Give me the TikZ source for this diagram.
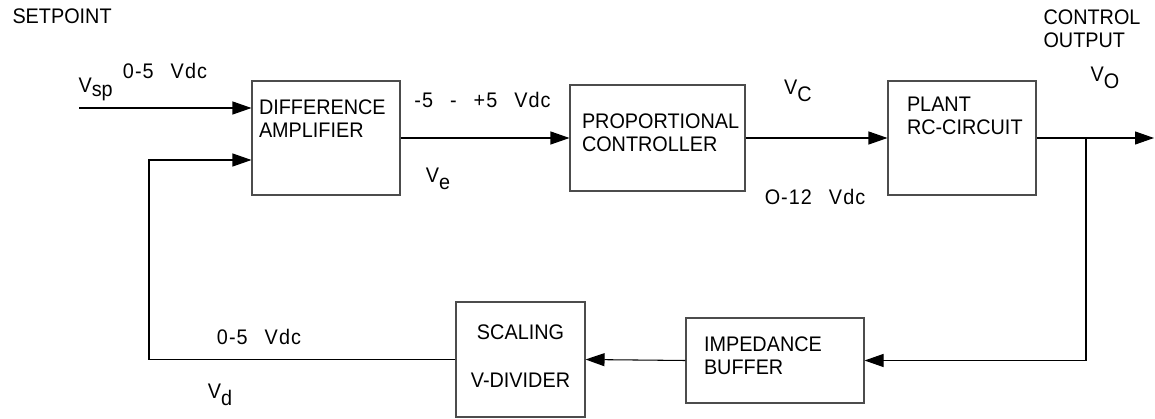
\documentclass[tikz,border=0pt]{standalone}
\usepackage{fontspec}
\setmainfont{Liberation Sans}[FakeStretch=0.94]
\usetikzlibrary{arrows.meta}
\tikzset{
  block/.style={draw=black!70,line width=0.6pt,inner sep=0pt},
  lbl/.style={font=\fontsize{12}{13}\selectfont,inner sep=0pt,align=left},
  val/.style={lbl,font=\fontsize{12}{13}\selectfont\addfontfeature{LetterSpace=5}},
}
\newcommand{\gp}{\hspace{3.4mm}}
\newcommand{\sub}[2][-0.6ex]{\raisebox{#1}{#2}}

\begin{document}
\begin{tikzpicture}[>={Triangle[length=3.8mm,width=2.6mm]},line width=0.6pt]
\useasboundingbox (0,0) rectangle (23.1,-8.38);
% forward path
\node[block,minimum width=2.96cm,minimum height=2.28cm] (diff) at (6.52,-2.76) {};
\node[block,minimum width=3.5cm,minimum height=2.12cm] (prop) at (13.15,-2.76) {};
\node[block,minimum width=2.96cm,minimum height=2.28cm] (plant) at (19.24,-2.76) {};
% feedback path
\node[block,minimum width=3.56cm,minimum height=1.7cm] (buf) at (15.5,-7.21) {};
\node[block,minimum width=2.58cm,minimum height=2.3cm] (scale) at (10.41,-7.19) {};

\node[lbl,anchor=west] (difftxt) at ([shift={(0.14,0.38)}]diff.west) {DIFFERENCE\\AMPLIFIER};
\node[lbl,anchor=west] (proptxt) at ([shift={(0.24,0.11)}]prop.west) {PROPORTIONAL\\CONTROLLER};
\node[lbl,anchor=west] (planttxt) at ([shift={(0.38,0.45)}]plant.west) {PLANT\\RC-CIRCUIT};
\node[lbl,anchor=west] (buftxt) at ([shift={(0.36,0.09)}]buf.west) {IMPEDANCE\\BUFFER};
\node[lbl] (scaletxt) at ([yshift=0.55cm]scale.center) {SCALING};
\node[lbl] (divtxt) at ([yshift=-0.41cm]scale.center) {V-DIVIDER};

% connectors
\coordinate (vsp) at (1.58,-2.16);
\coordinate (fb) at (2.98,-3.2);
\coordinate (tap) at (21.72,-2.76);
\coordinate (out) at (23.08,-2.76);
\draw[->] (vsp) -- (vsp -| diff.west);
\draw[->] (diff.east) -- (prop.west);
\draw[->] (prop.east) -- (plant.west);
\draw[->] (plant.east) -- (out);
\draw[->] (tap) |- (buf.east);
\draw[->] (buf.west) -- (scale.east);
\draw[->] (scale.west) -| (fb) -- (fb -| diff.west);

% labels
\node[lbl,anchor=west] (setpt) at (0.24,-0.32) {SETPOINT};
\node[lbl,anchor=base west] (vsplbl) at (1.56,-1.86) {V\sub[-0.35ex]{sp}};
\node[val] (vsprng) at (3.3,-1.42) {0-5\gp Vdc};
\node[val] (verng) at (9.65,-2.0) {-5\gp -\gp +5\gp Vdc};
\node[lbl] (velbl) at (8.76,-3.58) {V\sub{e}};
\node[lbl] (vclbl) at (15.96,-1.82) {V\sub{C}};
\node[val] (vcrng) at (16.3,-3.94) {O-12\gp Vdc};
\node[lbl,anchor=west] (ctrlout) at (20.86,-0.57) {CONTROL\\OUTPUT};
\node[lbl] (volbl) at (22.1,-1.56) {V\sub{O}};
\node[val] (vdrng) at (5.18,-6.74) {0-5\gp Vdc};
\node[lbl] (vdlbl) at (4.4,-7.9) {V\sub{d}};
\end{tikzpicture}
\end{document}
